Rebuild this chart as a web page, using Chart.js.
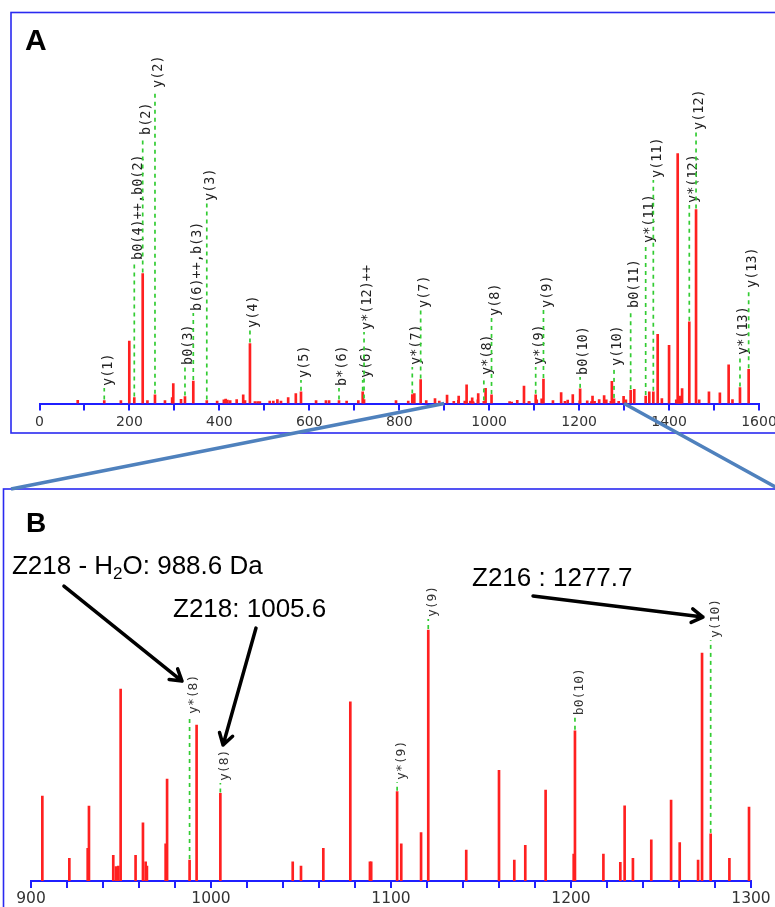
<!DOCTYPE html>
<html>
<head>
<meta charset="utf-8">
<script src="https://cdn.jsdelivr.net/npm/chart.js@4/dist/chart.umd.min.js"></script>
<style>
  html, body { margin: 0; padding: 0; background: #fff; }
  body { width: 775px; height: 907px; position: relative; overflow: hidden; }
  canvas { position: absolute; left: 0; }
  #specA { top: 0; width: 775px; height: 440px; }
  #specB { top: 480px; width: 775px; height: 427px; }
  #overlay { top: 0; width: 775px; height: 907px; pointer-events: none; }
</style>
</head>
<body>
<canvas id="specA" width="775" height="440"></canvas>
<canvas id="specB" width="775" height="427"></canvas>
<canvas id="overlay" width="775" height="907"></canvas>
<script>
// MS/MS peak list: [m/z, relative intensity %]
const peaksLow = [
  [85, 1.3], [144, 1.2], [181, 1.2], [199.7, 25], [210.8, 2.4], [229.5, 52], [240, 1.2],
  [256.8, 3.5], [279, 1.2], [295, 2.4], [297.5, 8], [314.7, 1.7], [323.5, 2.8], [342, 9],
  [372, 1.2], [395, 1], [410, 1.5], [414, 1.8], [418, 1.4], [424, 1.2], [438.5, 1.6],
  [453, 3.5], [457, 1.2], [468, 24], [479, 0.8], [485, 0.8], [490, 0.8], [512, 1], [520, 1],
  [529, 1.6], [537, 1], [553, 2.4], [570, 4], [581.5, 4.7], [615, 1.2], [637, 1.2], [644, 1.2],
  [666, 1.2], [683, 1], [709, 1.2], [718.7, 4.7], [721.7, 1.6], [792.8, 1.2], [820, 1],
  [829, 3.6], [833.5, 4], [847.6, 9.6], [860, 1.2], [879.5, 2], [889, 1]
];
const peaksWindow = [
  [906.3, 3.32], [921.3, 0.89], [931.5, 1.28], [932.2, 2.93], [945.7, 1.0], [947.2, 0.56],
  [948.5, 0.58], [949.8, 7.5], [958.1, 1.0], [962.2, 2.27], [963.7, 0.75], [964.4, 0.58],
  [974.8, 1.45], [975.6, 3.98], [988.1, 0.82], [992.0, 6.09], [1005.2, 3.42], [1045.4, 0.75],
  [1050, 0.58], [1062.4, 1.28], [1077.4, 7.0], [1088.3, 0.75], [1089, 0.75], [1103.4, 3.49],
  [1105.7, 1.45], [1116.7, 1.89], [1120.7, 9.8], [1141.8, 1.21], [1160, 4.32], [1168.5, 0.82],
  [1174.6, 1.39], [1185.9, 3.55], [1201.5, 1.05], [1202.2, 5.87], [1218, 1.05], [1227.4, 0.73],
  [1229.8, 2.94], [1234.4, 0.89], [1244.6, 1.61], [1255.6, 3.16], [1260.4, 1.5], [1270.6, 0.82],
  [1272.8, 8.9], [1277.6, 1.84], [1288, 0.89], [1298.9, 2.89]
];
const peaksHigh = [
  [1304, 1.5], [1314.6, 5.3], [1322.6, 5.7], [1348, 3], [1356, 4.7], [1365, 4.7], [1374.7, 27.7],
  [1384, 2], [1400, 23.3], [1416, 1.5], [1419.2, 100], [1421.5, 2], [1423.5, 3], [1426, 2.4],
  [1429, 6], [1445, 32.7], [1460, 77.6], [1467, 1.5], [1488.7, 4.7], [1513, 4.3], [1532.5, 15.5],
  [1541, 1.6], [1557.7, 6.4], [1577, 13.7]
];
const allPeaks = peaksLow.concat(peaksWindow, peaksHigh);

// Fragment ion assignments: [label, m/z, label level]
const ionsFull = [
  ['y(1)', 144, 6.2], ['b0(4)++,b0(2)', 210.8, 56.6], ['b(2)', 229.5, 106.6], ['y(2)', 256.8, 125.4],
  ['b0(3)', 323.5, 14.6], ['b(6)++,b(3)', 342, 36.2], ['y(3)', 372, 80.2], ['y(4)', 468, 29.4],
  ['y(5)', 581.5, 9.4], ['b*(6)', 666, 6.2], ['y(6)', 718.7, 9.4], ['y*(12)++', 721.7, 28.6],
  ['y*(7)', 829, 14.6], ['y(7)', 847.6, 37.4], ['y*(8)', 988.1, 10.6], ['y(8)', 1005.2, 34.2],
  ['y*(9)', 1103.4, 14.6], ['y(9)', 1120.7, 37.4], ['b0(10)', 1202.2, 10.6], ['y(10)', 1277.6, 14.2],
  ['b0(11)', 1314.6, 37.4], ['y*(11)', 1348, 63.4], ['y(11)', 1365, 89.4], ['y*(12)', 1445, 79.4],
  ['y(12)', 1460, 108.6], ['y*(13)', 1557.7, 18.6], ['y(13)', 1577, 45.4]
];
const ionsWindow = [
  ['y*(8)', 988.1, 6.45], ['y(8)', 1005.2, 3.83], ['y*(9)', 1103.4, 3.87],
  ['y(9)', 1120.7, 10.23], ['b0(10)', 1202.2, 6.4], ['y(10)', 1277.6, 9.41]
];

// Callout notes on the zoomed window: text pieces [string, isSubscript], anchor [m/z, intensity]
const noteTexts = [
  { parts: [['Z218 - H', 0], ['2', 1], ['O: 988.6 Da', 0]], at: [889.4, 11.99] },
  { parts: [['Z218: 1005.6', 0]], at: [978.9, 10.32] },
  { parts: [['Z216 : 1277.7', 0]], at: [1145, 11.52] }
];
const noteArrows = [
  { from: [918.3, 11.52], to: [983.9, 7.81] },
  { from: [1025, 9.88], to: [1006.7, 5.31] },
  { from: [1178.9, 11.13], to: [1273.3, 10.31] }
];

const AXIS_BLUE = '#1f1fff';

const ionLabelPlugin = {
  id: 'ionLabels',
  afterDatasetsDraw(chart, args, opts) {
    const { ctx, scales: { x, y } } = chart;
    ctx.save();
    opts.items.forEach(([text, mz, level]) => {
      const px = x.getPixelForValue(mz);
      const peak = allPeaks.find(p => Math.abs(p[0] - mz) < 0.05);
      const yTop = y.getPixelForValue(peak ? peak[1] : 0);
      const yLab = y.getPixelForValue(level);
      ctx.strokeStyle = '#33cc33';
      ctx.lineWidth = 1.7;
      ctx.setLineDash([4, 4]);
      ctx.beginPath();
      ctx.moveTo(px, yTop - 1);
      ctx.lineTo(px, yLab);
      ctx.stroke();
      ctx.setLineDash([]);
      ctx.save();
      ctx.translate(px - opts.shift, yLab - 2);
      ctx.rotate(-Math.PI / 2);
      ctx.font = opts.font;
      ctx.fillStyle = opts.color;
      ctx.textBaseline = 'top';
      ctx.textAlign = 'left';
      ctx.fillText(text, 0, 0);
      ctx.restore();
    });
    ctx.restore();
  }
};

const calloutPlugin = {
  id: 'callouts',
  afterDatasetsDraw(chart, args, opts) {
    const { ctx, scales: { x, y } } = chart;
    ctx.save();
    ctx.fillStyle = '#000';
    ctx.textBaseline = 'alphabetic';
    ctx.textAlign = 'left';
    opts.texts.forEach(t => {
      let cx = x.getPixelForValue(t.at[0]);
      const cy = y.getPixelForValue(t.at[1]);
      t.parts.forEach(([s, sub]) => {
        ctx.font = sub ? '17px "Liberation Sans", Arial, sans-serif' : '26px "Liberation Sans", Arial, sans-serif';
        ctx.fillText(s, cx, cy + (sub ? 5 : 0));
        cx += ctx.measureText(s).width;
      });
    });
    ctx.strokeStyle = '#000';
    ctx.lineWidth = 3.5;
    ctx.lineCap = 'round';
    ctx.lineJoin = 'round';
    opts.arrows.forEach(a => {
      const x0 = x.getPixelForValue(a.from[0]), y0 = y.getPixelForValue(a.from[1]);
      const x1 = x.getPixelForValue(a.to[0]), y1 = y.getPixelForValue(a.to[1]);
      const ang = Math.atan2(y1 - y0, x1 - x0);
      const head = 13, spread = 0.55;
      ctx.beginPath();
      ctx.moveTo(x0, y0);
      ctx.lineTo(x1, y1);
      ctx.moveTo(x1 - head * Math.cos(ang - spread), y1 - head * Math.sin(ang - spread));
      ctx.lineTo(x1, y1);
      ctx.lineTo(x1 - head * Math.cos(ang + spread), y1 - head * Math.sin(ang + spread));
      ctx.stroke();
    });
    ctx.restore();
  }
};

function spectrumChart(canvasId, cfg) {
  return new Chart(document.getElementById(canvasId), {
    type: 'bar',
    data: {
      datasets: [{
        data: allPeaks.map(p => ({ x: p[0], y: p[1] })),
        backgroundColor: '#ff2020',
        borderWidth: 0,
        barThickness: 2
      }]
    },
    options: {
      responsive: false,
      animation: false,
      devicePixelRatio: 1,
      layout: { padding: cfg.padding },
      scales: {
        x: {
          type: 'linear',
          min: cfg.min,
          max: cfg.max,
          offset: false,
          afterFit(scale) {
            scale.height = cfg.axisHeight;
            // end labels may overhang the plot edges
            scale.paddingLeft = 0;
            scale.paddingRight = 0;
          },
          ticks: {
            stepSize: cfg.step,
            autoSkip: false,
            maxRotation: 0,
            padding: cfg.tickPad,
            color: '#333',
            font: { family: '"DejaVu Sans", Verdana, sans-serif', size: cfg.tickFont },
            callback: v => (v % cfg.labelEvery === 0 ? String(v) : '')
          },
          grid: {
            display: true,
            offset: false,
            drawOnChartArea: false,
            drawTicks: true,
            tickLength: 7,
            color: AXIS_BLUE,
            lineWidth: 2
          },
          border: { display: true, color: AXIS_BLUE, width: 2 }
        },
        y: { display: false, min: 0, max: cfg.yMax }
      },
      plugins: {
        legend: { display: false },
        tooltip: { enabled: false },
        ionLabels: cfg.ions,
        callouts: cfg.callouts || { texts: [], arrows: [] }
      }
    },
    plugins: [ionLabelPlugin, calloutPlugin]
  });
}

const chartA = spectrumChart('specA', {
  min: 0, max: 1600, step: 100, labelEvery: 200, yMax: 140,
  padding: { left: 39.5, right: 16, top: 53.5, bottom: 0 },
  axisHeight: 36.5, tickPad: 3, tickFont: 14,
  ions: { items: ionsFull, font: '13.5px "DejaVu Sans Mono", monospace', color: '#222', shift: 3 }
});

const chartB = spectrumChart('specB', {
  min: 900, max: 1300, step: 20, labelEvery: 100, yMax: 12,
  padding: { left: 31, right: 24, top: 93.8, bottom: 0 },
  axisHeight: 26, tickPad: 2, tickFont: 15.5,
  ions: { items: ionsWindow, font: '13px "DejaVu Sans Mono", monospace', color: '#333', shift: 2 },
  callouts: { texts: noteTexts, arrows: noteArrows }
});

// Panel frames, zoom connectors and panel letters
(function drawOverlay() {
  const ctx = document.getElementById('overlay').getContext('2d');
  ctx.strokeStyle = '#2a2af0';
  ctx.lineWidth = 1.6;
  ctx.strokeRect(11, 12.5, 800, 420.5);
  ctx.strokeRect(3.5, 489, 775.5, 440);

  const xs = chartA.scales.x;
  const axisY = chartA.chartArea.bottom;
  const frameTopB = 489;
  ctx.strokeStyle = '#4f81bd';
  ctx.lineWidth = 3.5;
  ctx.beginPath();
  ctx.moveTo(xs.getPixelForValue(chartB.scales.x.min), axisY);
  ctx.lineTo(11, frameTopB);
  ctx.moveTo(xs.getPixelForValue(chartB.scales.x.max), axisY);
  ctx.lineTo(779, frameTopB);
  ctx.stroke();

  ctx.fillStyle = '#000';
  ctx.textBaseline = 'alphabetic';
  ctx.font = 'bold 30px "Liberation Sans", Arial, sans-serif';
  ctx.fillText('A', 25, 50);
  ctx.font = 'bold 28px "Liberation Sans", Arial, sans-serif';
  ctx.fillText('B', 26, 532);
})();
</script>
</body>
</html>
